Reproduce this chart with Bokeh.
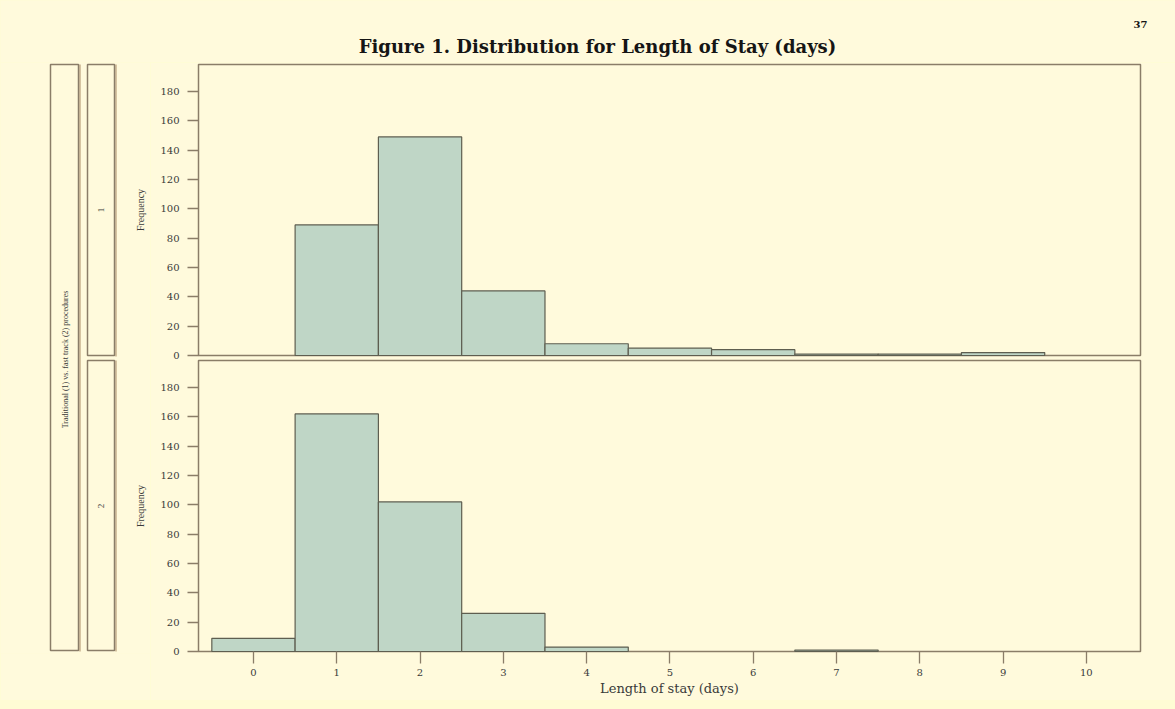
import math
from bokeh.plotting import figure
from bokeh.models import Range1d, FixedTicker, Label, ColumnDataSource, CustomJSTickFormatter
from bokeh.layouts import column, row
from bokeh.embed import file_html
from bokeh.resources import INLINE

# ---------------- data ----------------
days = [0, 1, 2, 3, 4, 5, 6, 7, 8, 9]
traditional_counts = [0, 89, 149, 44, 8, 5, 4, 1, 1, 2]
fast_track_counts = [9, 162, 102, 26, 3, 0, 0, 1, 0, 0]
y_ticks = [0, 20, 40, 60, 80, 100, 120, 140, 160, 180]
x_ticks = [0, 1, 2, 3, 4, 5, 6, 7, 8, 9, 10]
panel_labels = ["1", "2"]
strip_title = "Traditional (1) vs. fast track (2) procedures"
chart_title = "Figure 1. Distribution for Length of Stay (days)"
page_number = "37"
x_label = "Length of stay (days)"
y_label = "Frequency"

# ---------------- style ----------------
BG = "#FFFADC"
FRAME = "#8a7d68"
SHADOW = "#d6c4a2"
BAR_FILL = "#bfd6c6"
BAR_EDGE = "#5e5e50"
TEXT = "#3a3a3a"
SERIF = "DejaVu Serif"

# ---------------- layout geometry (page pixels) ----------------
PAGE_W = 1175
TOP_H = 62
LEFT_W = 150
BOTTOM = 700
FRAME_L, FRAME_R = 196, 1142
FRAME_T, FRAME_B = 62, 653
PAN_L, PAN_R = 198, 1140
P1_T, P1_B = 64, 355
P2_T, P2_B = 360, 651
X_LO, X_HI = -0.66, 10.65      # data x at panel left/right edges
Y_MAX = 198.4                  # data y at panel top

xs = (X_HI - X_LO) / (PAN_R - PAN_L)
ys = Y_MAX / (P2_B - P2_T)
x_range = Range1d(X_LO - (PAN_L - FRAME_L) * xs, X_HI + (FRAME_R - PAN_R) * xs)
y2 = Range1d(-(FRAME_B - P2_B) * ys, (P2_B - FRAME_T) * ys)
y1 = Range1d(-(FRAME_B - P1_B) * ys, (P1_B - FRAME_T) * ys)
offset = (P2_B - P1_B) * ys

p = figure(
    frame_width=FRAME_R - FRAME_L, frame_height=FRAME_B - FRAME_T,
    x_range=x_range, y_range=y2,
    output_backend="svg", toolbar_location=None,
    min_border_left=FRAME_L - LEFT_W, min_border_right=PAGE_W - FRAME_R,
    min_border_top=FRAME_T - TOP_H, min_border_bottom=BOTTOM - FRAME_B,
    background_fill_color=BG, border_fill_color=BG, outline_line_color=None,
)
p.extra_y_ranges = {"p1": y1}
p.grid.visible = False

# panel frames
for rname in ["p1", "default"]:
    p.quad(left=[X_LO], right=[X_HI], bottom=[0], top=[Y_MAX], y_range_name=rname,
           fill_color=None, line_color=FRAME, line_width=1.5)

for counts, rname in [(traditional_counts, "p1"), (fast_track_counts, "default")]:
    src = ColumnDataSource(dict(x=[d for d, c in zip(days, counts) if c > 0],
                                top=[c for c in counts if c > 0]))
    p.vbar(x="x", top="top", bottom=0, width=1, source=src, y_range_name=rname,
           fill_color=BAR_FILL, line_color=BAR_EDGE, line_width=1.2)

ya = p.yaxis[0]
ya.ticker = FixedTicker(ticks=y_ticks + [t + offset for t in y_ticks])
ya.formatter = CustomJSTickFormatter(args=dict(off=offset), code="""
    const v = tick > off - 5 ? tick - off : tick;
    return Math.round(v).toString();
""")
ya.axis_line_color = None
ya.major_tick_line_color = FRAME
ya.major_tick_line_width = 1.3
ya.major_tick_out = 9
ya.major_tick_in = 2
ya.minor_tick_line_color = None
ya.major_label_standoff = 8
ya.major_label_text_font = SERIF
ya.major_label_text_font_size = "10px"
ya.major_label_text_color = TEXT

xa = p.xaxis[0]
xa.ticker = FixedTicker(ticks=x_ticks)
xa.axis_line_color = None
xa.major_tick_line_color = FRAME
xa.major_tick_line_width = 1.3
xa.major_tick_out = 10
xa.major_tick_in = 2
xa.minor_tick_line_color = None
xa.major_label_standoff = 5
xa.major_label_text_font = SERIF
xa.major_label_text_font_size = "10px"
xa.major_label_text_color = TEXT
xa.axis_label = x_label
xa.axis_label_text_font = SERIF
xa.axis_label_text_font_style = "normal"
xa.axis_label_text_font_size = "13px"
xa.axis_label_text_color = TEXT
xa.axis_label_standoff = 2

# ---------------- title strip (page coords) ----------------
top = figure(width=PAGE_W, height=TOP_H, x_range=Range1d(0, PAGE_W), y_range=Range1d(TOP_H, 0),
             output_backend="svg", toolbar_location=None, min_border=0,
             background_fill_color=BG, border_fill_color=BG, outline_line_color=None,
             x_axis_location=None, y_axis_location=None)
top.grid.visible = False
top.add_layout(Label(x=597, y=46, text=chart_title, text_font=SERIF, text_font_style="bold",
                     text_font_size="18px", text_color="#151515", text_align="center",
                     text_baseline="middle"))
top.add_layout(Label(x=1140, y=24, text=page_number, text_font=SERIF, text_font_style="bold",
                     text_font_size="10px", text_color="#151515", text_align="center",
                     text_baseline="middle"))

# ---------------- conditioning strips + y labels (page coords) ----------------
# frame of this figure is aligned with the panel figure's frame (rows align frames)
strip = figure(frame_width=LEFT_W, frame_height=FRAME_B - FRAME_T,
               x_range=Range1d(0, LEFT_W), y_range=Range1d(FRAME_B, FRAME_T),
               output_backend="svg", toolbar_location=None, min_border=0,
               min_border_top=FRAME_T - TOP_H, min_border_bottom=BOTTOM - FRAME_B,
               background_fill_color=BG, border_fill_color=BG, outline_line_color=None,
               x_axis_location=None, y_axis_location=None)
strip.grid.visible = False
box_l = [50, 87, 87]
box_r = [78, 114, 114]
box_t = [P1_T, P1_T, P2_T]
box_b = [650, P1_B, 650]
strip.quad(left=[r + 0.5 for r in box_r], right=[r + 2.5 for r in box_r], top=box_t,
           bottom=[b + 1 for b in box_b], fill_color=SHADOW, line_color=None)
strip.quad(left=box_l, right=box_r, top=box_t, bottom=box_b, fill_color=BG,
           line_color=FRAME, line_width=1.5)
strip.add_layout(Label(x=65, y=359, text=strip_title, angle=math.pi / 2,
                       text_font="Liberation Serif", text_font_size="8px",
                       text_color=TEXT, text_align="center", text_baseline="middle"))
for lab, (t, b) in zip(panel_labels, [(P1_T, P1_B), (P2_T, P2_B)]):
    strip.add_layout(Label(x=100.5, y=(t + b) / 2, text=lab, angle=math.pi / 2,
                           text_font="Liberation Serif", text_font_size="9px",
                           text_color=TEXT, text_align="center", text_baseline="middle"))
    strip.add_layout(Label(x=140, y=(t + b) / 2, text=y_label, angle=math.pi / 2,
                           text_font="Liberation Serif", text_font_size="10px",
                           text_color=TEXT, text_align="center", text_baseline="middle"))

layout = column(top, row(strip, p, spacing=0), spacing=0)

html = file_html(layout, INLINE, title="Figure 1")
html = html.replace("</head>", "<style>html, body {background: #FFFCD4;}</style>\n</head>", 1)
open("out.html", "w").write(html)
